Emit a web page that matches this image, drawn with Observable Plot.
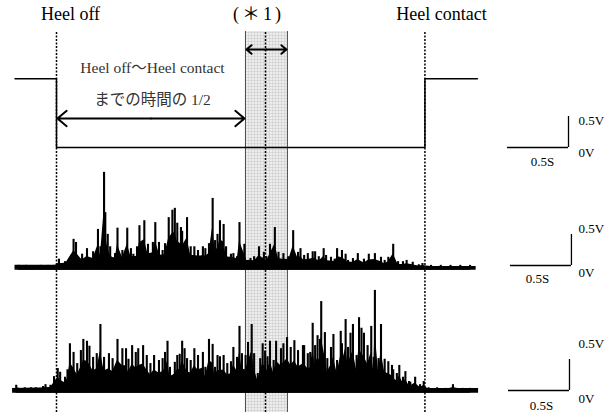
<!DOCTYPE html>
<html><head><meta charset="utf-8">
<script src="https://cdn.jsdelivr.net/npm/d3@7"></script>
<script src="https://cdn.jsdelivr.net/npm/@observablehq/plot@0.6"></script>
<style>body{margin:0;background:#fff}</style>
</head><body><div id="chart"></div>
<script>
// ---- Data (time in seconds from heel off, amplitude in volts) ----
const heelOffTime = 0;
const heelContactTime = 3.02;
const windowStart = 1.549;   // (*1) analysis window
const windowEnd = 1.893;
const windowMid = 1.713;

// foot switch trace
const stepTime  = [-0.34, 0, 0, 3.02, 3.02, 3.45];
const stepLevel = [1.11, 1.11, 0, 0, 1.11, 1.11];

// EMG channel 1: spike peaks
const emg1Time = [-0.31,-0.25,-0.20,-0.13,-0.07,-0.02,0.02,0.07,0.14,0.16,0.21,0.25,0.30,0.34,0.36,0.39,0.40,0.42,0.44,0.48,0.50,0.54,0.58,0.61,0.63,0.66,0.68,0.72,0.75,0.79,0.81,0.84,0.87,0.89,0.92,0.95,0.97,0.99,1.02,1.03,1.07,1.10,1.13,1.16,1.20,1.22,1.25,1.28,1.30,1.32,1.34,1.37,1.39,1.43,1.45,1.48,1.50,1.54,1.57,1.59,1.62,1.66,1.70,1.72,1.75,1.79,1.82,1.86,1.90,1.94,1.98,2.00,2.03,2.06,2.10,2.12,2.15,2.19,2.21,2.25,2.28,2.30,2.34,2.37,2.39,2.43,2.47,2.52,2.56,2.61,2.66,2.69,2.72,2.76,2.80,2.84,2.87,2.92,2.97,3.00,3.07,3.15,3.23,3.31,3.39];
const emg1Amp  = [0.05,0.05,0.03,0.05,0.05,0.05,0.15,0.11,0.47,0.42,0.23,0.32,0.27,0.63,0.35,1.55,0.90,0.55,0.35,0.24,0.65,0.29,0.65,0.32,0.23,0.35,0.69,0.77,0.39,0.42,0.74,0.42,0.29,0.40,0.82,0.94,0.97,0.73,0.66,0.60,0.82,0.35,0.35,0.29,0.35,0.32,0.40,1.13,0.45,0.55,0.77,0.71,0.35,0.23,0.24,0.19,0.74,0.39,0.13,0.16,0.19,0.35,0.26,0.19,0.39,0.66,0.26,0.24,0.19,0.61,0.26,0.32,0.21,0.24,0.27,0.27,0.19,0.32,0.21,0.18,0.15,0.32,0.29,0.23,0.13,0.16,0.24,0.15,0.23,0.24,0.18,0.13,0.18,0.39,0.11,0.11,0.13,0.10,0.06,0.08,0.05,0.05,0.05,0.05,0.05];
// EMG channel 1: dense core envelope
const emg1CoreTime = [-0.34,0,0.05,0.20,0.36,0.61,0.93,1.18,1.43,1.55,1.67,1.84,2.08,2.33,2.57,2.82,3.02,3.44];
const emg1CoreAmp  = [0.05,0.05,0.08,0.12,0.16,0.19,0.22,0.20,0.18,0.13,0.12,0.15,0.14,0.11,0.09,0.05,0.03,0.03];

// EMG channel 2: spike peaks
const emg2Time = [-0.33,-0.26,-0.21,-0.17,-0.11,-0.09,-0.05,-0.02,0.01,0.03,0.07,0.09,0.11,0.14,0.17,0.20,0.22,0.25,0.27,0.30,0.33,0.36,0.39,0.43,0.46,0.50,0.54,0.57,0.59,0.62,0.65,0.67,0.71,0.74,0.77,0.80,0.84,0.87,0.89,0.91,0.93,0.97,0.99,1.01,1.03,1.05,1.07,1.10,1.13,1.16,1.20,1.22,1.25,1.28,1.30,1.32,1.34,1.37,1.40,1.43,1.45,1.48,1.50,1.52,1.55,1.57,1.60,1.62,1.65,1.67,1.69,1.71,1.73,1.75,1.78,1.80,1.84,1.86,1.89,1.92,1.95,1.98,2.02,2.03,2.06,2.08,2.10,2.12,2.14,2.16,2.17,2.20,2.22,2.25,2.27,2.30,2.33,2.34,2.37,2.39,2.41,2.43,2.46,2.48,2.50,2.52,2.55,2.58,2.60,2.61,2.64,2.66,2.69,2.72,2.75,2.76,2.79,2.81,2.84,2.86,2.89,2.90,2.94,2.98,3.01,3.05,3.12,3.19,3.25,3.33,3.39];
const emg2Amp  = [0.10,0.06,0.06,0.06,0.08,0.11,0.10,0.24,0.37,0.31,0.23,0.35,0.77,0.63,0.45,0.66,0.84,0.81,0.73,0.55,0.61,1.08,0.55,0.61,0.53,0.84,0.69,0.69,0.52,0.74,0.63,0.69,0.74,0.58,0.45,0.58,0.50,0.53,0.63,0.81,0.39,0.47,0.58,0.60,0.81,0.69,0.53,0.50,0.69,0.58,0.63,0.39,0.84,0.76,0.39,0.58,0.56,0.58,0.45,0.48,0.71,0.55,1.05,0.61,0.58,0.79,1.08,0.61,0.29,0.53,0.77,0.65,0.56,0.81,0.50,0.81,0.69,0.77,0.87,0.71,0.82,0.66,0.74,0.74,0.61,0.63,1.10,0.74,0.90,0.84,1.45,0.95,0.53,0.71,0.92,0.50,0.97,0.77,1.16,0.71,0.94,1.08,0.58,1.19,1.02,0.94,0.74,1.05,0.55,1.63,0.53,1.08,0.52,0.48,0.42,0.35,0.29,0.42,0.23,0.32,0.16,0.15,0.23,0.11,0.16,0.06,0.06,0.05,0.11,0.05,0.05];
// EMG channel 2: dense core envelope
const emg2CoreTime = [-0.36,-0.05,0.02,0.20,0.52,1.18,1.51,1.64,1.72,2.16,2.41,2.66,2.82,3.02,3.46];
const emg2CoreAmp  = [0.05,0.06,0.13,0.21,0.25,0.25,0.23,0.16,0.22,0.27,0.25,0.15,0.08,0.05,0.05];

// ---- layout constants (volts on the shared vertical scale) ----
const stepBase = 4.274, emg1Base = 2.323, emg2Base = 0.339;
const lineTop = 6.145;
const scaleBars = [{t: 4.197, v: 4.274}, {t: 4.221, v: 2.371}, {t: 4.205, v: 0.355}];
const barSeconds = 0.5, barVolts = 0.5;
const bodyShare = 0.6; // dense part of each burst drawn solid

const step = stepTime.map((t, i) => ({t, v: stepBase + stepLevel[i]}));
const spikes1 = emg1Time.map((t, i) => ({t, v: emg1Amp[i]}));
const spikes2 = emg2Time.map((t, i) => ({t, v: emg2Amp[i]}));
const core1 = emg1CoreTime.map((t, i) => ({t, v: emg1CoreAmp[i]}));
const core2 = emg2CoreTime.map((t, i) => ({t, v: emg2CoreAmp[i]}));

const titleLabels = [
  {t: 0.115, v: 6.419, text: "Heel off"},
  {t: 1.656, v: 6.419, text: "(＊1)"},
  {t: 3.156, v: 6.419, text: "Heel contact"}
];
const midLabels = [
  {t: 0.787, v: 5.548, text: "Heel off〜Heel contact"},
  {t: 0.787, v: 5.032, text: "までの時間の 1/2"}
];
const voltLabels = [
  {t: 4.279, v: 4.71, text: "0.5V"}, {t: 4.279, v: 4.194, text: "0V"},
  {t: 4.279, v: 2.968, text: "0.5V"}, {t: 4.279, v: 2.258, text: "0V"},
  {t: 4.279, v: 1.113, text: "0.5V"}, {t: 4.279, v: 0.226, text: "0V"}
];
const secLabels = [
  {t: 3.984, v: 4.048, text: "0.5S"},
  {t: 3.943, v: 2.161, text: "0.5S"},
  {t: 3.975, v: 0.113, text: "0.5S"}
];
const arrows = [
  {a: 0.775, b: 0.008, v: 4.742}, {a: 0.775, b: 1.541, v: 4.742},
  {a: 1.721, b: 1.557, v: 5.855}, {a: 1.721, b: 1.885, v: 5.855}
];

const serif = "'Liberation Serif','Noto Sans CJK JP',serif";

const chart = Plot.plot({
  width: 614, height: 412, margin: 0,
  x: {domain: [-0.459, 4.574], axis: null},
  y: {domain: [0, 6.645], axis: null},
  style: {fontFamily: serif, background: "white", color: "black"},
  marks: [
    Plot.rect([{a: windowStart, b: windowEnd}], {x1: "a", x2: "b", y1: 0, y2: lineTop, fill: "#e3e3e3"}),
    Plot.ruleX([windowStart, windowEnd], {y1: 0, y2: lineTop, stroke: "#4a4a4a", strokeWidth: 1}),
    Plot.ruleX([heelOffTime, heelContactTime, windowMid], {y1: 0, y2: lineTop, stroke: "black", strokeWidth: 1.5, strokeDasharray: "2,1.5"}),
    Plot.line(step, {x: "t", y: "v", stroke: "black", strokeWidth: 1.5}),
    // channel 1
    Plot.areaY(core1, {x: "t", y1: emg1Base - 0.03, y2: d => emg1Base + d.v, fill: "black"}),
    Plot.areaY(spikes1, {x: "t", y1: emg1Base - 0.03, y2: d => emg1Base + d.v * bodyShare, fill: "black"}),
    Plot.ruleX(spikes1, {x: "t", y1: emg1Base - 0.02, y2: d => emg1Base + d.v, stroke: "black", strokeWidth: 2.1}),
    // channel 2
    Plot.areaY(core2, {x: "t", y1: emg2Base - 0.03, y2: d => emg2Base + d.v, fill: "black"}),
    Plot.areaY(spikes2, {x: "t", y1: emg2Base - 0.03, y2: d => emg2Base + d.v * bodyShare, fill: "black"}),
    Plot.ruleX(spikes2, {x: "t", y1: emg2Base - 0.02, y2: d => emg2Base + d.v, stroke: "black", strokeWidth: 2.1}),
    Plot.arrow(arrows, {x1: "a", x2: "b", y1: "v", y2: "v", stroke: "black", strokeWidth: 2, headLength: 9, headAngle: 80}),
    Plot.ruleY(scaleBars, {y: "v", x1: d => d.t - barSeconds, x2: "t", stroke: "black", strokeWidth: 1.3}),
    Plot.ruleX(scaleBars, {x: "t", y1: "v", y2: d => d.v + barVolts, stroke: "black", strokeWidth: 1.3}),
    Plot.text(titleLabels, {x: "t", y: "v", text: "text", fontSize: 18, fill: "black"}),
    Plot.text(midLabels, {x: "t", y: "v", text: "text", fontSize: 15.5, fill: "#333"}),
    Plot.text(voltLabels, {x: "t", y: "v", text: "text", fontSize: 13, textAnchor: "start", fill: "black"}),
    Plot.text(secLabels, {x: "t", y: "v", text: "text", fontSize: 13, fill: "black"})
  ]
});

// grid texture for the (*1) window
const svg = d3.select(chart);
const defs = svg.insert("defs", ":first-child");
const pat = defs.append("pattern").attr("id", "bandgrid").attr("width", 3).attr("height", 3).attr("patternUnits", "userSpaceOnUse");
pat.append("rect").attr("width", 3).attr("height", 3).attr("fill", "#ededed");
pat.append("path").attr("d", "M2.5 0V3M0 2.5H3").attr("stroke", "#cccccc").attr("stroke-width", 0.6);
svg.selectAll('[fill="#e3e3e3"]').attr("fill", "url(#bandgrid)");
svg.selectAll("text").filter(function() { return this.textContent === "(＊1)"; }).style("letter-spacing", "3px");

document.getElementById("chart").appendChild(chart);
</script>
</body></html>
